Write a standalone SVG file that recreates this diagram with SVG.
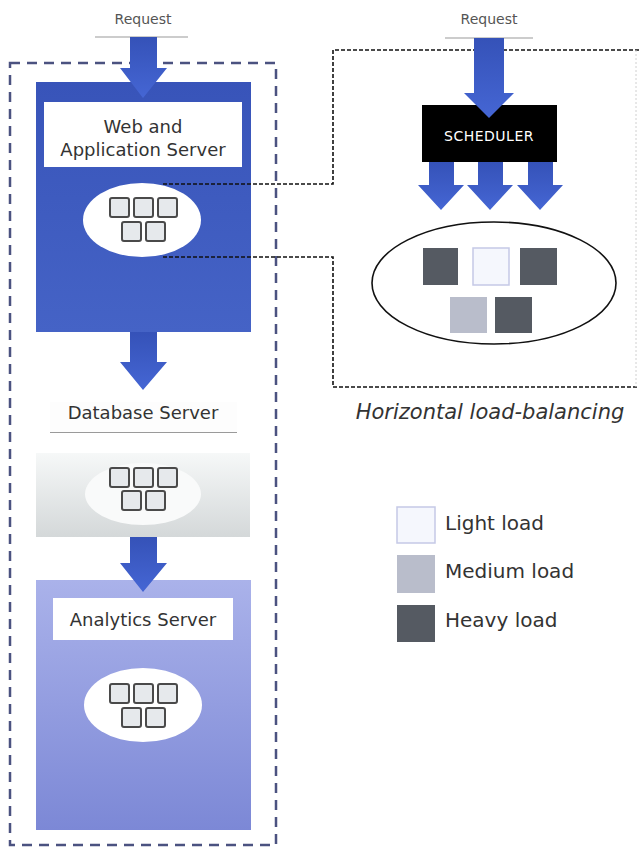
<svg xmlns="http://www.w3.org/2000/svg" width="639" height="849" viewBox="0 0 639 849">
<defs>
<linearGradient id="gWeb" x1="0" y1="0" x2="0" y2="1"><stop offset="0" stop-color="#3854b9"/><stop offset="1" stop-color="#4563c6"/></linearGradient>
<linearGradient id="gDb" x1="0" y1="0" x2="0" y2="1"><stop offset="0" stop-color="#f6f8f8"/><stop offset="1" stop-color="#d4d8d9"/></linearGradient>
<linearGradient id="gAn" x1="0" y1="0" x2="0" y2="1"><stop offset="0" stop-color="#aab2ea"/><stop offset="1" stop-color="#7c88d6"/></linearGradient>
<linearGradient id="gArrow" x1="0" y1="0" x2="0" y2="1"><stop offset="0" stop-color="#3552b8"/><stop offset="1" stop-color="#4566d4"/></linearGradient>
<g id="mini">
<rect x="0" y="0" width="19" height="19" rx="2"/>
</g>
</defs>
<style>
.lbl{font-family:"DejaVu Sans",Verdana,sans-serif;fill:#333;}
.req{font-family:"DejaVu Sans",Verdana,sans-serif;font-size:14px;fill:#555;text-anchor:middle;}
.arrow{fill:url(#gArrow);}
.mini{fill:#e6e9ec;stroke:#4a4a4a;stroke-width:2;}
.conn{fill:none;stroke:#111;stroke-width:1.6;stroke-dasharray:4 2;}
.outer{fill:none;stroke:#4b5280;stroke-width:2.5;stroke-dasharray:10 7;}
.heavy{fill:#555a62;}
.light{fill:#f5f7fd;stroke:#c5c9e6;stroke-width:1.5;}
.medium{fill:#b9bdcb;}
</style>
<rect width="639" height="849" fill="#ffffff"/>

<!-- outer dashed boundary -->
<rect class="outer" x="10" y="63" width="266" height="782"/>

<g id="request-left"><text class="req" x="143" y="24">Request</text></g>
<g id="request-right"><text class="req" x="489" y="24">Request</text></g>

<g id="web-server">
<rect x="36" y="82" width="215" height="250" fill="url(#gWeb)"/>
<rect x="44" y="102" width="198" height="65" fill="#ffffff"/>
<text class="lbl" x="143" y="133" font-size="18" text-anchor="middle">Web and</text>
<text class="lbl" x="143" y="156" font-size="18" text-anchor="middle">Application Server</text>
<ellipse cx="142" cy="220" rx="59" ry="37" fill="#ffffff"/>
<g class="mini">
<use href="#mini" x="110" y="198"/><use href="#mini" x="134" y="198"/><use href="#mini" x="158" y="198"/>
<use href="#mini" x="122" y="222"/><use href="#mini" x="146" y="222"/>
</g>
</g>

<g id="database-server">
<rect x="50" y="402" width="187" height="30" fill="#fdfdfd"/>
<line x1="50" y1="432.5" x2="237" y2="432.5" stroke="#9a9a9a" stroke-width="1.2"/>
<text class="lbl" x="143" y="419" font-size="18" text-anchor="middle">Database Server</text>
<rect x="36" y="453" width="214" height="84" fill="url(#gDb)"/>
<ellipse cx="143" cy="494" rx="58" ry="31" fill="#f9fafa"/>
<g class="mini">
<use href="#mini" x="110" y="468"/><use href="#mini" x="134" y="468"/><use href="#mini" x="158" y="468"/>
<use href="#mini" x="122" y="491"/><use href="#mini" x="146" y="491"/>
</g>
</g>

<g id="analytics-server">
<rect x="36" y="580" width="215" height="250" fill="url(#gAn)"/>
<rect x="53" y="598" width="180" height="42" fill="#ffffff"/>
<text class="lbl" x="143" y="626" font-size="18" text-anchor="middle">Analytics Server</text>
<ellipse cx="143" cy="705" rx="59" ry="37" fill="#ffffff"/>
<g class="mini">
<use href="#mini" x="110" y="684"/><use href="#mini" x="134" y="684"/><use href="#mini" x="158" y="684"/>
<use href="#mini" x="122" y="708"/><use href="#mini" x="146" y="708"/>
</g>
</g>

<g id="scheduler">
<rect x="422" y="105" width="135" height="57" fill="#000000"/>
<text x="489" y="141" font-family="DejaVu Sans,Verdana,sans-serif" font-size="14" fill="#ffffff" text-anchor="middle" letter-spacing="0.5">SCHEDULER</text>
</g>

<g id="server-pool">
<ellipse cx="494" cy="283" rx="122" ry="61" fill="#ffffff" stroke="#111" stroke-width="1.6"/>
<rect class="heavy" x="423" y="248" width="35" height="37"/>
<rect class="light" x="473" y="248" width="36" height="37"/>
<rect class="heavy" x="520" y="248" width="37" height="37"/>
<rect class="medium" x="450" y="297" width="37" height="36"/>
<rect class="heavy" x="495" y="297" width="37" height="36"/>
</g>

<g id="caption">
<text class="lbl" x="490" y="419" font-size="21" font-style="italic" text-anchor="middle">Horizontal load-balancing</text>
</g>

<g id="legend">
<rect class="light" x="397" y="507" width="38" height="36"/>
<text class="lbl" x="445" y="530" font-size="20">Light load</text>
<rect class="medium" x="397" y="555" width="38" height="38" fill="#b8bcd8"/>
<text class="lbl" x="445" y="578" font-size="20">Medium load</text>
<rect class="heavy" x="397" y="605" width="38" height="37"/>
<text class="lbl" x="445" y="627" font-size="20">Heavy load</text>
</g>

<g id="connectors">
<polyline class="conn" points="163,184 333,184 333,50 639,50"/>
<polyline class="conn" points="163,257 333,257 333,387 639,387"/>
<line x1="636" y1="50" x2="636" y2="387" stroke="#d0d0d0" stroke-width="1" stroke-dasharray="2 2"/>
<line x1="95" y1="37" x2="188" y2="37" stroke="#999" stroke-width="1"/>
<line x1="445" y1="38" x2="533" y2="38" stroke="#999" stroke-width="1"/>
<path class="arrow" d="M130,37 H157 V68 H167 L143,98 L120,68 H130 Z"/>
<path class="arrow" d="M130,332 H157 V362 H167 L143,390 L120,362 H130 Z"/>
<path class="arrow" d="M130,537 H157 V563 H167 L143,592 L120,563 H130 Z"/>
<path class="arrow" d="M474,38 H504 V93 H514 L489,118 L464,93 H474 Z"/>
<path class="arrow" d="M429,162 H454 V185 H464 L441,210 L418,185 H429 Z"/>
<path class="arrow" d="M478,162 H503 V185 H513 L490,210 L467,185 H478 Z"/>
<path class="arrow" d="M528,162 H553 V185 H563 L540,210 L517,185 H528 Z"/>
</g>
</svg>
